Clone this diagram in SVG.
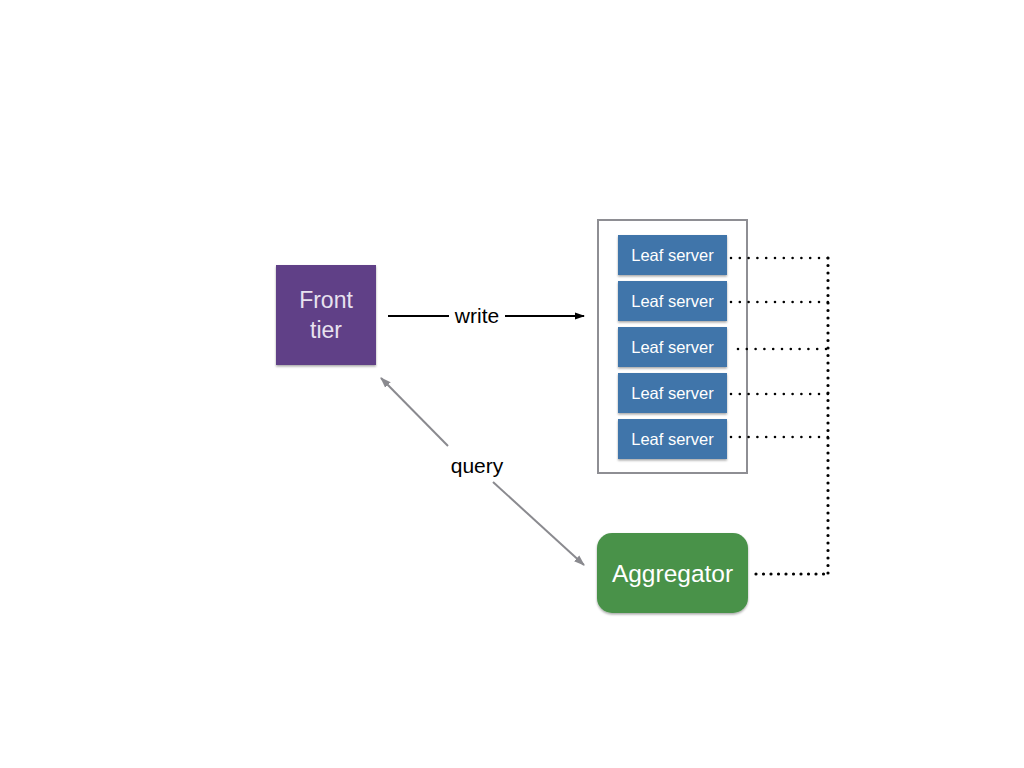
<svg xmlns="http://www.w3.org/2000/svg" width="1024" height="768" viewBox="0 0 1024 768">
<style>
.leaf rect{fill:#3f74aa;filter:url(#sh)}
.leaf text{font-family:"Helvetica Neue","Liberation Sans",Arial,sans-serif;font-size:16.5px;fill:#ffffff;text-anchor:middle}
.dot{fill:none;stroke:#000;stroke-width:2.6;stroke-linecap:round;stroke-dasharray:0 8.8}
.dotb{fill:none;stroke:#000;stroke-width:3.2;stroke-linecap:round;stroke-dasharray:0 7.5}
.lbl{font-family:"Helvetica Neue","Liberation Sans",Arial,sans-serif;font-size:21px;fill:#000;text-anchor:middle}
.big{font-family:"Helvetica Neue","Liberation Sans",Arial,sans-serif;text-anchor:middle}
</style>
<defs>
<filter id="sh" x="-10%" y="-10%" width="120%" height="130%"><feDropShadow dx="0" dy="1.5" stdDeviation="1" flood-color="#000" flood-opacity="0.35"/></filter>
<marker id="ab" viewBox="0 0 10 10" refX="9" refY="5" markerWidth="10" markerHeight="10" markerUnits="userSpaceOnUse" orient="auto"><path d="M0,1.5 L10,5 L0,8.5 Z" fill="#000"/></marker>
<marker id="ag" viewBox="0 0 10 10" refX="9" refY="5" markerWidth="11" markerHeight="11" markerUnits="userSpaceOnUse" orient="auto-start-reverse"><path d="M0,1.5 L10,5 L0,8.5 Z" fill="#8a8a8f"/></marker>
</defs>
<rect width="1024" height="768" fill="#ffffff"/>
<g id="leaf-container">
<rect x="598" y="220" width="149" height="253" fill="none" stroke="#8e8e93" stroke-width="2"/>
</g>
<g id="connectors">
<line x1="388" y1="316" x2="449" y2="316" stroke="#000" stroke-width="2"/>
<line x1="505" y1="316" x2="584" y2="316" stroke="#000" stroke-width="2" marker-end="url(#ab)"/>
<text class="lbl" x="477" y="323">write</text>
<line x1="448" y1="446" x2="381" y2="378" stroke="#8a8a8f" stroke-width="2" marker-end="url(#ag)"/>
<line x1="493" y1="482" x2="584" y2="565" stroke="#8a8a8f" stroke-width="2" marker-end="url(#ag)"/>
<text class="lbl" x="477" y="473">query</text>
<path class="dot" d="M731,258 H828"/>
<path class="dot" d="M731,302 H828"/>
<path class="dot" d="M738,349 H828"/>
<path class="dot" d="M731,394 H828"/>
<path class="dot" d="M731,437 H828"/>
<path class="dotb" d="M828,258 V574"/>
<path class="dotb" d="M756,574 H828"/>
</g>
<g id="front-tier">
<rect x="276" y="265" width="100" height="100" fill="#603f87" filter="url(#sh)"/>
<text class="big" x="326" y="308" font-size="23" fill="#e8e2ef">Front</text>
<text class="big" x="326" y="338" font-size="23" fill="#e8e2ef">tier</text>
</g>
<g id="leaf1" class="leaf"><rect x="618" y="235" width="109" height="40"/><text x="672.5" y="261">Leaf server</text></g>
<g id="leaf2" class="leaf"><rect x="618" y="281" width="109" height="40"/><text x="672.5" y="307">Leaf server</text></g>
<g id="leaf3" class="leaf"><rect x="618" y="327" width="109" height="40"/><text x="672.5" y="353">Leaf server</text></g>
<g id="leaf4" class="leaf"><rect x="618" y="373" width="109" height="40"/><text x="672.5" y="399">Leaf server</text></g>
<g id="leaf5" class="leaf"><rect x="618" y="419" width="109" height="40"/><text x="672.5" y="445">Leaf server</text></g>
<g id="aggregator">
<rect x="597" y="533" width="151" height="80" rx="15" fill="#4a924a" filter="url(#sh)"/>
<text class="big" x="672.5" y="582" font-size="24.5" fill="#ffffff">Aggregator</text>
</g>
</svg>
